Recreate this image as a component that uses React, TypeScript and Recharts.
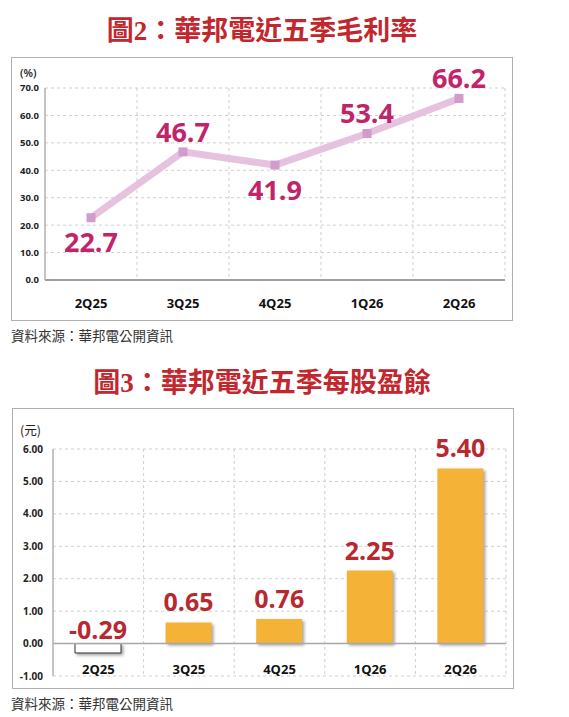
import React from 'react';
import {
  ComposedChart,
  Line,
  Bar,
  Cell,
  XAxis,
  YAxis,
  CartesianGrid,
  ReferenceLine,
  LabelList
} from 'recharts';

// 毛利率 (%)
const marginQuarters = ['2Q25', '3Q25', '4Q25', '1Q26', '2Q26'];
const marginValues = [22.7, 46.7, 41.9, 53.4, 66.2];
const marginTicks = [0, 10, 20, 30, 40, 50, 60, 70];

// 每股盈餘 (元)
const epsQuarters = ['2Q25', '3Q25', '4Q25', '1Q26', '2Q26'];
const epsValues = [-0.29, 0.65, 0.76, 2.25, 5.4];
const epsTicks = [-1, 0, 1, 2, 3, 4, 5, 6];

// label sits under the point when it is a dip
const marginLabelBelow = [true, false, true, false, false];

const marginData = marginQuarters.map((q, i) => ({ q, v: marginValues[i] }));
const epsData = epsQuarters.map((q, i) => ({ q, v: epsValues[i] }));

const NUM_FONT = '"Open Sans", "Noto Sans", sans-serif';
const CJK_FONT = '"Noto Sans CJK TC", "Noto Sans", sans-serif';
const TITLE_FONT = '"Liberation Serif", "Noto Sans CJK TC", serif';

const gridBoundaries = (n: number) => (args: any) => {
  const off = args.offset;
  const step = off.width / n;
  const xs: number[] = [];
  for (let i = 1; i <= n; i++) xs.push(off.left + step * i);
  return xs;
};

const SquareDot = (props: any) => {
  const { cx, cy, index } = props;
  if (cx == null || cy == null) return <g key={index} />;
  return <rect key={index} x={cx - 4.5} y={cy - 4.5} width={9} height={9} fill="#D09CCB" />;
};

const MarginLabel = (props: any) => {
  const { x, y, value, index } = props;
  const below = marginLabelBelow[index];
  const cy = below ? y + 25 : y - 20;
  return (
    <text
      x={x}
      y={cy}
      dy="0.36em"
      textAnchor="middle"
      fill="#C2246A"
      fontFamily={NUM_FONT}
      fontWeight={700}
      fontSize={27}
    >
      {Number(value).toFixed(1)}
    </text>
  );
};

const EpsLabel = (props: any) => {
  const { x, y, width, height, value } = props;
  const top = Math.min(y, y + height);
  const cy = value < 0 ? top - 14 : top - 20;
  return (
    <text
      x={x + width / 2}
      y={cy}
      dy="0.36em"
      textAnchor="middle"
      fill="#B8282F"
      fontFamily={NUM_FONT}
      fontWeight={700}
      fontSize={25}
    >
      {Number(value).toFixed(2)}
    </text>
  );
};

const makeXTick = (dy: number) => (props: any) => {
  const { x, y, payload } = props;
  return (
    <text
      x={x}
      y={y + dy}
      textAnchor="middle"
      fill="#111"
      fontFamily={NUM_FONT}
      fontWeight={700}
      fontSize={13}
    >
      {payload.value}
    </text>
  );
};

const Title: React.FC<{ text: string; top: number }> = ({ text, top }) => (
  <div
    style={{
      position: 'absolute',
      left: 11,
      width: 502,
      top,
      textAlign: 'center',
      fontFamily: TITLE_FONT,
      fontWeight: 700,
      fontSize: 27,
      lineHeight: '30px',
      color: '#C1272D'
    }}
  >
    {text}
  </div>
);

const Source: React.FC<{ top: number }> = ({ top }) => (
  <div
    style={{
      position: 'absolute',
      left: 11,
      top,
      fontFamily: CJK_FONT,
      fontSize: 13.5,
      lineHeight: '18px',
      color: '#333'
    }}
  >
    資料來源：華邦電公開資訊
  </div>
);

export default function App() {
  return (
    <div
      style={{
        position: 'absolute',
        left: 0,
        top: 0,
        width: 569,
        height: 717,
        background: '#fff',
        overflow: 'hidden'
      }}
    >
      <Title text="圖2：華邦電近五季毛利率" top={16} />
      <div
        style={{
          position: 'absolute',
          left: 11,
          top: 57,
          width: 502,
          height: 264,
          border: '1.5px solid #B0B0B0',
          boxSizing: 'border-box'
        }}
      />
      <div
        style={{
          position: 'absolute',
          left: 20,
          top: 65,
          fontFamily: NUM_FONT,
          fontWeight: 600,
          fontSize: 11,
          lineHeight: '16px',
          color: '#222'
        }}
      >
        (%)
      </div>
      <div style={{ position: 'absolute', left: 0, top: 57 }}>
        <ComposedChart
          width={569}
          height={263}
          data={marginData}
          margin={{ top: 31, right: 64, left: 0, bottom: 0 }}
        >
          <CartesianGrid
            stroke="#CFCFCF"
            strokeDasharray="3 3"
            verticalCoordinatesGenerator={gridBoundaries(marginQuarters.length)}
          />
          <XAxis
            dataKey="q"
            scale="band"
            height={40}
            tickSize={0}
            tickMargin={0}
            tickLine={false}
            axisLine={{ stroke: '#A0A0A0', strokeWidth: 2 }}
            tick={makeXTick(27.5)}
          />
          <YAxis
            width={45}
            domain={[0, 70]}
            ticks={marginTicks}
            tickFormatter={(v: number) => v.toFixed(1)}
            tickSize={0}
            tickMargin={6}
            tickLine={false}
            axisLine={{ stroke: '#B0B0B0', strokeWidth: 1.5 }}
            tick={{ fill: '#222', fontFamily: NUM_FONT, fontWeight: 700, fontSize: 9.5 }}
          />
          <Line
            dataKey="v"
            stroke="#E6C2DF"
            strokeWidth={7}
            dot={<SquareDot />}
            activeDot={false}
            isAnimationActive={false}
          >
            <LabelList dataKey="v" content={<MarginLabel />} />
          </Line>
        </ComposedChart>
      </div>
      <Source top={326} />

      <Title text="圖3：華邦電近五季每股盈餘" top={368} />
      <div
        style={{
          position: 'absolute',
          left: 12,
          top: 408,
          width: 502,
          height: 281,
          border: '1.5px solid #B0B0B0',
          boxSizing: 'border-box'
        }}
      />
      <div
        style={{
          position: 'absolute',
          left: 20,
          top: 421,
          fontFamily: CJK_FONT,
          fontSize: 12.5,
          lineHeight: '18px',
          color: '#222'
        }}
      >
        (元)
      </div>
      <div style={{ position: 'absolute', left: 0, top: 408 }}>
        <ComposedChart
          width={569}
          height={280}
          data={epsData}
          margin={{ top: 41, right: 63, left: 0, bottom: 0 }}
        >
          <CartesianGrid
            stroke="#CFCFCF"
            strokeDasharray="3 3"
            verticalCoordinatesGenerator={gridBoundaries(epsQuarters.length)}
          />
          <XAxis
            dataKey="q"
            height={12}
            tickSize={0}
            tickMargin={0}
            tickLine={false}
            axisLine={false}
            tick={makeXTick(-2.5)}
          />
          <YAxis
            width={53}
            domain={[-1, 6]}
            ticks={epsTicks}
            tickFormatter={(v: number) => v.toFixed(2)}
            tickSize={0}
            tickMargin={10}
            tickLine={false}
            axisLine={{ stroke: '#B0B0B0', strokeWidth: 1.5 }}
            tick={{ fill: '#222', fontFamily: NUM_FONT, fontWeight: 700, fontSize: 10 }}
          />
          <ReferenceLine y={0} stroke="#A8A8A8" strokeWidth={1.5} />
          <Bar dataKey="v" barSize={46} isAnimationActive={false}>
            {epsData.map((d, i) => (
              <Cell
                key={i}
                fill={d.v < 0 ? '#FFFFFF' : '#F4B336'}
                stroke={d.v < 0 ? '#333' : 'none'}
                strokeWidth={d.v < 0 ? 1 : 0}
                style={{ filter: 'drop-shadow(2px 2px 1.5px rgba(0,0,0,0.35))' }}
              />
            ))}
            <LabelList dataKey="v" content={<EpsLabel />} />
          </Bar>
        </ComposedChart>
      </div>
      <Source top={694} />
    </div>
  );
}
